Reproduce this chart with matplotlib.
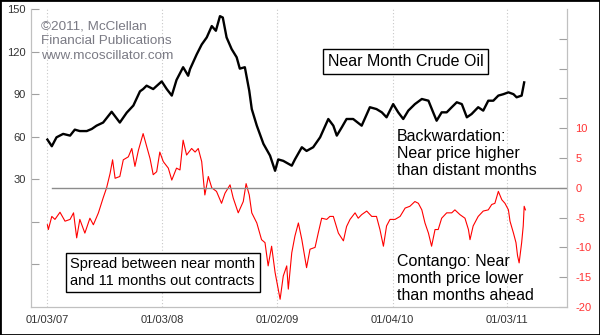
import pandas as pd
import matplotlib.pyplot as plt
from matplotlib.patches import Rectangle

plt.rcParams['font.family'] = ['Liberation Sans', 'DejaVu Sans']

# near month crude oil price (left scale)
oil_dates = [
    "2007-01-04", "2007-01-18", "2007-02-02", "2007-02-23", "2007-03-17", "2007-04-01",
    "2007-04-17", "2007-05-09", "2007-05-25", "2007-06-09", "2007-06-30", "2007-07-27",
    "2007-08-22", "2007-09-13", "2007-10-04", "2007-10-25", "2007-11-04", "2007-11-15",
    "2007-12-06", "2008-01-02", "2008-01-18", "2008-02-03", "2008-02-18", "2008-03-10",
    "2008-03-26", "2008-04-01", "2008-04-22", "2008-05-08", "2008-05-24", "2008-06-09",
    "2008-06-22", "2008-07-05", "2008-07-14", "2008-07-26", "2008-08-11", "2008-08-27",
    "2008-09-06", "2008-09-22", "2008-10-06", "2008-10-14", "2008-10-30", "2008-11-20",
    "2008-12-11", "2008-12-27", "2009-01-06", "2009-01-22", "2009-02-18", "2009-02-28",
    "2009-03-22", "2009-04-06", "2009-04-27", "2009-05-19", "2009-06-14", "2009-06-30",
    "2009-07-11", "2009-07-27", "2009-08-11", "2009-09-01", "2009-09-28", "2009-10-24",
    "2009-11-14", "2009-12-01", "2009-12-16", "2010-01-06", "2010-01-22", "2010-02-07",
    "2010-02-23", "2010-03-16", "2010-04-07", "2010-04-28", "2010-05-13", "2010-05-24",
    "2010-06-09", "2010-06-25", "2010-07-11", "2010-07-27", "2010-08-12", "2010-08-28",
    "2010-09-12", "2010-10-03", "2010-10-19", "2010-11-04", "2010-11-20", "2010-12-06",
    "2010-12-22", "2011-01-07", "2011-01-23", "2011-02-02", "2011-02-18", "2011-02-26",
]
oil_price = [
    58, 53.3, 59.6, 62, 60.8, 65,
    64, 64, 65.5, 67.8, 70, 77.6,
    70, 77, 82, 92, 93.6, 96,
    93.6, 99, 93.6, 89, 100, 109,
    103, 107.7, 118, 125, 130, 138,
    134.7, 145, 144, 130, 121.8, 116,
    108, 109, 92.4, 79.5, 67.8, 55,
    46.7, 36, 44, 43, 39.6, 44,
    52.6, 50, 52.6, 59.6, 72.5, 67.8,
    60.8, 66.7, 72.5, 72.5, 67.8, 80.8,
    79.5, 77.2, 73.7, 83, 77.2, 72.5,
    78.4, 83, 86.6, 85.4, 77.2, 71.3,
    77.2, 77.2, 80.8, 84.3, 83, 73.7,
    76, 80.8, 78.4, 85.4, 85.4, 89,
    90, 91.3, 90, 87.8, 89, 98.3,
]

# spread near month minus 11 months out (right scale)
spread_dates = [
    "2007-01-04", "2007-01-07", "2007-01-18", "2007-01-28", "2007-02-13", "2007-03-01",
    "2007-03-17", "2007-03-28", "2007-04-07", "2007-04-17", "2007-05-03", "2007-05-19",
    "2007-05-30", "2007-06-15", "2007-06-30", "2007-07-11", "2007-07-22", "2007-07-30",
    "2007-08-07", "2007-08-22", "2007-09-02", "2007-09-18", "2007-09-29", "2007-10-09",
    "2007-10-20", "2007-11-04", "2007-11-15", "2007-11-26", "2007-12-06", "2007-12-17",
    "2007-12-27", "2008-01-07", "2008-01-23", "2008-02-03", "2008-02-18", "2008-02-29",
    "2008-03-10", "2008-03-21", "2008-04-06", "2008-04-17", "2008-04-27", "2008-05-08",
    "2008-05-18", "2008-05-29", "2008-06-09", "2008-06-24", "2008-07-10", "2008-07-21",
    "2008-08-06", "2008-08-16", "2008-09-01", "2008-09-17", "2008-09-26", "2008-10-06",
    "2008-10-14", "2008-10-30", "2008-11-14", "2008-11-25", "2008-12-05", "2008-12-16",
    "2008-12-27", "2009-01-06", "2009-01-12", "2009-01-22", "2009-02-02", "2009-02-07",
    "2009-02-18", "2009-02-28", "2009-03-11", "2009-03-22", "2009-04-06", "2009-04-17",
    "2009-05-03", "2009-05-13", "2009-05-24", "2009-06-09", "2009-06-19", "2009-06-30",
    "2009-07-16", "2009-08-01", "2009-08-11", "2009-08-22", "2009-09-07", "2009-09-17",
    "2009-09-28", "2009-10-14", "2009-10-30", "2009-11-14", "2009-11-25", "2009-12-06",
    "2009-12-16", "2009-12-27", "2010-01-12", "2010-01-28", "2010-02-13", "2010-02-28",
    "2010-03-16", "2010-03-27", "2010-04-07", "2010-04-17", "2010-04-28", "2010-05-08",
    "2010-05-19", "2010-05-29", "2010-06-09", "2010-06-25", "2010-07-11", "2010-07-21",
    "2010-08-06", "2010-08-22", "2010-09-02", "2010-09-07", "2010-09-17", "2010-10-03",
    "2010-10-19", "2010-11-04", "2010-11-15", "2010-11-25", "2010-12-06", "2010-12-17",
    "2010-12-27", "2011-01-07", "2011-01-12", "2011-01-23", "2011-01-31", "2011-02-05",
    "2011-02-10", "2011-02-18", "2011-02-23", "2011-02-26", "2011-03-02",
]
spread_values = [
    -6.2, -7, -4.8, -5.3, -4.1, -5.6,
    -5.3, -4.2, -8.4, -5.3, -7.6, -5.1,
    -6.2, -4.2, -1.7, 0, 2.4, 4.7,
    1.6, 1.9, 4.7, 5.2, 6.6, 3.6,
    6.3, 9.1, 7, 4.9, 2.2, 2.7,
    6, 4.4, 3.3, 1.3, 3.3, 3,
    8, 5.5, 6.6, 6, 6.6, 4.4,
    -1.2, 1.9, 0, -0.6, -2.6, -0.9,
    0.5, -1.7, -4.2, -2.3, 0.7, -1.2,
    -4.2, -5.9, -8.7, -9.2, -13.1, -9.8,
    -14.2, -17, -18.7, -14.8, -13.1, -17,
    -10.9, -8.1, -5.9, -8.7, -13.4, -10.3,
    -10, -7.6, -5.1, -5.3, -4.8, -4.8,
    -7.6, -8.9, -6.5, -5.3, -4.2, -5.1,
    -4.5, -3.9, -4.8, -4.8, -7, -9.8,
    -6.4, -5.3, -5.3, -4.8, -3.4, -3.1,
    -2.3, -2.6, -3.7, -5.9, -7.6, -9.8,
    -7, -7, -5.1, -4.2, -4.2, -3.7,
    -4.5, -5.1, -7, -8.7, -6.4, -4.8,
    -3.9, -3.7, -2.8, -2.6, -0.6, -2,
    -2.6, -3.7, -5.6, -7.6, -9.2, -11.4,
    -12.6, -9.2, -6.4, -3.1, -3.7,
]

tick_dates = ["2007-01-03", "2008-01-03", "2009-01-02", "2010-01-04", "2011-01-03"]
tick_labels = ["01/03/07", "01/03/08", "01/02/09", "01/04/10", "01/03/11"]
price_ticks = [-30, 0, 30, 60, 90, 120, 150]
price_labels = ["", "", "30", "60", "90", "120", "150"]
spread_ticks = [-20, -15, -10, -5, 0, 5, 10, 15, 20, 25]
spread_labels = ["-20", "-15", "-10", "-5", "0", "5", "10", "", "", ""]

fig = plt.figure(figsize=(6, 3.35), dpi=100)
ax = fig.add_axes([0.0517, 0.0836, 0.8933, 0.8894])
ax2 = ax.twinx()

ax.plot(pd.to_datetime(oil_dates), oil_price, color="black", lw=1.7)
ax2.plot(pd.to_datetime(spread_dates), spread_values, color="#ff0000", lw=0.8)
ax2.axhline(0, xmin=0.04, color="#8c8c8c", lw=1)

ax.set_xlim(pd.Timestamp("2006-11-13"), pd.Timestamp("2011-07-12"))
ax.set_ylim(-60, 150)
ax2.set_ylim(-20, 30)

ax.set_xticks(pd.to_datetime(tick_dates))
ax.set_xticklabels(tick_labels)
ax.set_yticks(price_ticks)
ax.set_yticklabels(price_labels)
ax2.set_yticks(spread_ticks)
ax2.set_yticklabels(spread_labels)

ax.grid(axis="x", color="#c8c8c8", ls=(0, (1, 2)), lw=0.8)
ax.tick_params(axis="x", length=0, pad=6, labelsize=8, labelcolor="#333333")
ax.tick_params(axis="y", direction="in", length=6, color="#a0a0a0", pad=4,
               labelsize=8, labelcolor="#333333")
ax2.tick_params(axis="y", direction="in", length=6, color="#a0a0a0", pad=6,
                labelsize=8, labelcolor="#ff3333")

for a in (ax, ax2):
    for side in ("left", "right", "bottom"):
        a.spines[side].set_color("#c0c0c0")
    a.spines["top"].set_visible(False)

ax2.text(0.019, 0.962, "©2011, McClellan\nFinancial Publications\nwww.mcoscillator.com",
         transform=ax2.transAxes, fontsize=9.7, color="#7a7a84", va="top", ha="left",
         linespacing=1.3)
ax2.text(0.554, 0.824, "Near Month Crude Oil", transform=ax2.transAxes, fontsize=11.5,
         va="center", ha="left",
         bbox=dict(boxstyle="square,pad=0.3", fc="white", ec="black", lw=1))
ax2.text(0.683, 0.597, "Backwardation:\nNear price higher\nthan distant months",
         transform=ax2.transAxes, fontsize=11.5, va="top", ha="left", linespacing=1.15)
ax2.text(0.683, 0.178, "Contango: Near\nmonth price lower\nthan months ahead",
         transform=ax2.transAxes, fontsize=11.5, va="top", ha="left", linespacing=1.15)
ax2.text(0.073, 0.116, "Spread between near month\nand 11 months out contracts",
         transform=ax2.transAxes, fontsize=10.5, va="center", ha="left", linespacing=1.25,
         bbox=dict(boxstyle="square,pad=0.3", fc="white", ec="black", lw=1))

fig.patches.append(Rectangle((0, 0), 1, 1, transform=fig.transFigure, fill=False,
                             ec="black", lw=2))

fig.savefig("out.png", dpi=100)
